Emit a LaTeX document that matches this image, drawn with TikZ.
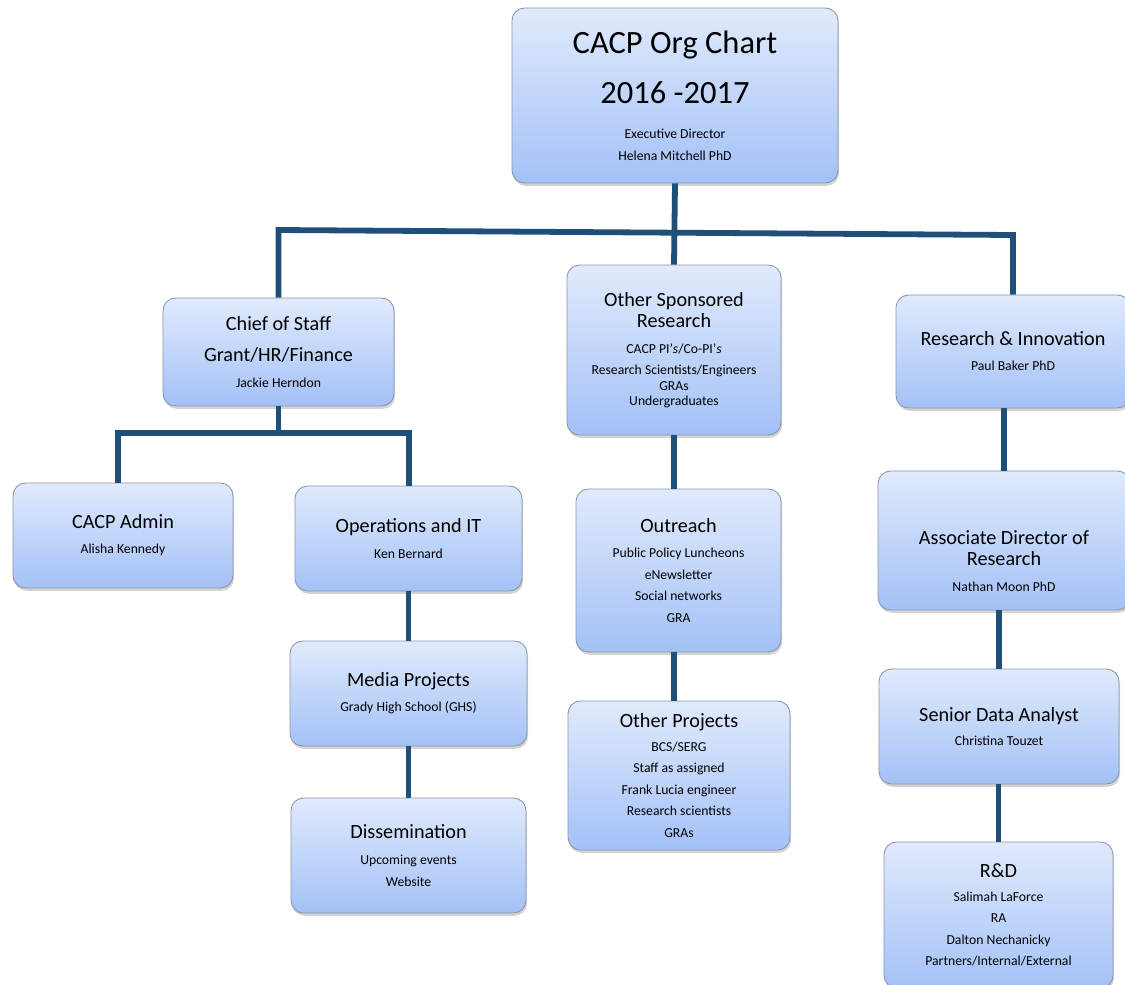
\documentclass[tikz,border=0pt]{standalone}
\usepackage{fontspec}
\setmainfont{Carlito}
\usetikzlibrary{shadows}
\definecolor{boxtop}{RGB}{224,234,252}
\definecolor{boxbot}{RGB}{163,193,247}
\definecolor{boxline}{RGB}{140,150,168}
\definecolor{linkblue}{RGB}{31,78,121}
\newcommand{\ttl}{\fontsize{18.5pt}{28pt}\selectfont}
\newcommand{\hd}{\fontsize{11.5pt}{12.5pt}\selectfont}

\begin{document}
\begin{tikzpicture}[x=0.02cm, y=-0.02cm,
  orgbox/.style={draw=boxline, line width=0.5pt, rounded corners=0.25cm,
    top color=boxtop, bottom color=boxbot,
    drop shadow={shadow xshift=0.6pt, shadow yshift=-1.6pt, opacity=0.35},
    align=center, inner sep=0pt, font=\fontsize{7.8pt}{12.2pt}\selectfont},
  link/.style={draw=linkblue, line width=3.3pt}]
\useasboundingbox (0,0) rectangle (1125,984);

% top
\node[orgbox, minimum width=6.52cm, minimum height=3.5cm] (top) at (675,95.5)
  {{\ttl CACP Org Chart}\\[11.8pt]{\ttl 2016 -2017}\\[8pt]Executive Director\\Helena Mitchell PhD};

% second row
\node[orgbox, minimum width=4.62cm, minimum height=2.16cm] (cos) at (278.5,352)
  {{\hd Chief of Staff}\\[5.4pt]{\hd Grant/HR/Finance}\\[2.5pt]Jackie Herndon};
\node[orgbox, minimum width=4.28cm, minimum height=3.4cm] (osr) at (674,350)
  {{\hd Other Sponsored}\\{\hd Research}\\[2.5pt]CACP PI\textquoteright{}\textit{s}/Co-PI\textquoteright\textit{s}\\
   Research Scientists/Engineers\\[-3.4pt]GRAs\\[-3.4pt]Undergraduates};
\node[orgbox, minimum width=4.68cm, minimum height=2.26cm] (ri) at (1013,351.5)
  {{\hd Research \& Innovation}\\[2pt]Paul Baker PhD};

% left branch
\node[orgbox, minimum width=4.4cm, minimum height=2.1cm] (adm) at (123,535.5)
  {{\hd CACP Admin}\\[2pt]Alisha Kennedy};
\node[orgbox, minimum width=4.54cm, minimum height=2.1cm] (ops) at (408.5,538.5)
  {{\hd Operations and IT}\\[2.5pt]Ken Bernard};
\node[orgbox, minimum width=4.74cm, minimum height=2.1cm] (med) at (408.5,693.5)
  {{\hd Media Projects}\\[2pt]Grady High School (GHS)};
\node[orgbox, minimum width=4.7cm, minimum height=2.3cm] (dis) at (408.5,855.5)
  {{\hd Dissemination}\\[2.5pt]Upcoming events\\Website};

% middle branch
\node[orgbox, minimum width=4.1cm, minimum height=3.26cm] (out) at (678.5,570.5)
  {{\hd Outreach}\\[2pt]Public Policy Luncheons\\eNewsletter\\Social networks\\GRA};
\node[orgbox, minimum width=4.44cm, minimum height=2.98cm] (oth) at (679,775.5)
  {{\hd Other Projects}\\[1.4pt]BCS/SERG\\Staff as assigned\\Frank Lucia engineer\\Research scientists\\GRAs};

% right branch
\node[orgbox, minimum width=5.04cm, minimum height=2.78cm] (adr) at (1004,540.5)
  {\mbox{}\\[19pt]{\hd Associate Director of}\\{\hd Research}\\[2.5pt]Nathan Moon PhD};
\node[orgbox, minimum width=4.8cm, minimum height=2.3cm] (sda) at (999,726.5)
  {{\hd Senior Data Analyst}\\[2pt]Christina Touzet};
\node[orgbox, minimum width=4.58cm, minimum height=2.92cm] (rnd) at (998.5,915)
  {{\hd R\&D}\\[1.5pt]Salimah LaForce\\RA\\Dalton Nechanicky\\Partners/Internal/External};

% connectors
\coordinate (busL) at (277,230);
\coordinate (busR) at (1013,235);
\coordinate (subL) at (118,433);
\coordinate (subR) at (409,433);
\draw[link] (top.south) -- (osr.north);
\draw[link] (cos.north) -- (cos.north |- busL) -- (busR) -- (ri.north);
\draw[link] (cos.south) -- (cos.south |- subL);
\draw[link] (subL |- adm.north) -- (subL) -- (subR) -- (subR |- ops.north);
\draw[link] (ops) -- (med);
\draw[link] (med) -- (dis);
\draw[link] (osr.south) -- (osr.south |- out.north);
\draw[link] (osr.south |- out.south) -- (osr.south |- oth.north);
\draw[link] (adr.north |- ri.south) -- (adr.north);
\draw[link] (sda.north |- adr.south) -- (sda.north);
\draw[link] (rnd.north |- sda.south) -- (rnd.north);
\end{tikzpicture}
\end{document}
